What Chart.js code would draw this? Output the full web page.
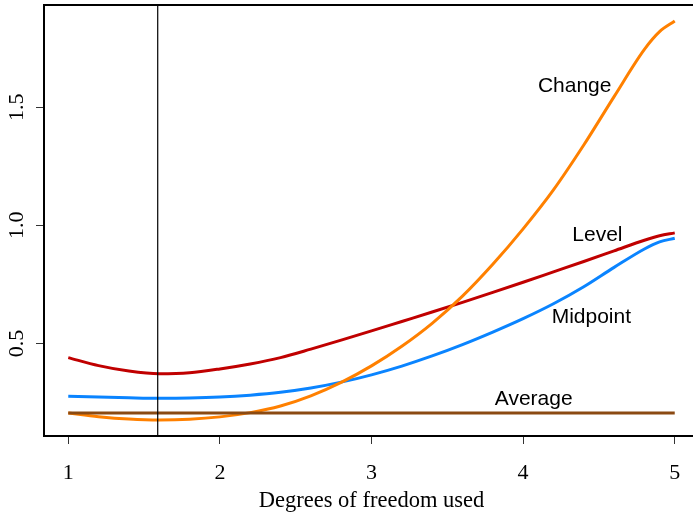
<!DOCTYPE html>
<html>
<head>
<meta charset="utf-8">
<script src="https://cdn.jsdelivr.net/npm/chart.js@4.4.1/dist/chart.umd.min.js"></script>
<style>
  html, body { margin: 0; padding: 0; background: #fff; overflow: hidden; }
  #wrap { width: 705px; height: 515px; }
</style>
</head>
<body>
<div id="wrap"><canvas id="chart" width="705" height="515"></canvas></div>
<script>
// Degrees of freedom (x) at which each smoother summary was evaluated
const dfUsed = [1.0, 1.2, 1.4, 1.6, 1.8, 2.0, 2.2, 2.4, 2.6, 2.8, 3.0, 3.2, 3.4, 3.6, 3.8, 4.0, 4.2, 4.4, 4.6, 4.8, 4.9, 5.0];

const changeValues   = [0.205, 0.190, 0.180, 0.176, 0.179, 0.189, 0.207, 0.235, 0.278, 0.335, 0.405, 0.488, 0.585, 0.700, 0.835, 0.985, 1.150, 1.340, 1.545, 1.745, 1.820, 1.865];
const levelValues    = [0.440, 0.406, 0.383, 0.372, 0.376, 0.392, 0.413, 0.440, 0.476, 0.514, 0.553, 0.593, 0.633, 0.674, 0.716, 0.759, 0.803, 0.847, 0.892, 0.937, 0.956, 0.968];
const midpointValues = [0.276, 0.273, 0.270, 0.268, 0.269, 0.273, 0.281, 0.293, 0.311, 0.336, 0.367, 0.404, 0.447, 0.495, 0.548, 0.605, 0.668, 0.740, 0.822, 0.900, 0.930, 0.945];
const averageX       = [1.0, 5.0];
const averageValues  = [0.205, 0.205];

// Chosen degrees of freedom, marked with a vertical rule
const chosenDf = 1.59;

// Axis ticks and ranges
const xTicks = [1, 2, 3, 4, 5];
const yTicks = [0.5, 1.0, 1.5];
const xRange = [0.84, 5.16];
const yRange = [0.108, 1.933];

// Curve names, written next to each curve (anchor in data units)
const curveNames = ['Change', 'Level', 'Midpoint', 'Average'];
const nameAnchorX = [4.34, 4.49, 4.45, 4.07];
const nameAnchorY = [1.59, 0.958, 0.612, 0.262];

const SERIF = '"Liberation Serif", "DejaVu Serif", serif';
const SANS = '"Liberation Sans", Arial, sans-serif';

const toPoints = (xs, ys) => xs.map((x, i) => ({ x: x, y: ys[i] }));

const lineStyle = (color, order) => ({
  borderColor: color,
  borderWidth: 3,
  pointRadius: 0,
  fill: false,
  cubicInterpolationMode: 'monotone',
  order: order
});

// Frame around the plotting region, plus rotated y tick labels and curve names
const decorations = {
  id: 'decorations',
  afterDatasetsDraw(chart) {
    const { ctx, chartArea: a, scales } = chart;
    ctx.save();
    ctx.strokeStyle = '#000';
    ctx.lineWidth = 2;
    ctx.strokeRect(a.left, a.top, a.right - a.left, a.bottom - a.top);

    // y tick labels, reading bottom to top
    ctx.fillStyle = '#000';
    ctx.font = '22px ' + SERIF;
    ctx.textAlign = 'center';
    ctx.textBaseline = 'middle';
    yTicks.forEach(v => {
      const py = scales.y.getPixelForValue(v);
      ctx.save();
      ctx.translate(17, py);
      ctx.rotate(-Math.PI / 2);
      ctx.fillText(v.toFixed(1), 0, 0);
      ctx.restore();
    });

    // curve names
    ctx.font = '21px ' + SANS;
    curveNames.forEach((name, i) => {
      ctx.fillText(name, scales.x.getPixelForValue(nameAnchorX[i]), scales.y.getPixelForValue(nameAnchorY[i]));
    });
    ctx.restore();
  }
};

new Chart(document.getElementById('chart'), {
  type: 'line',
  data: {
    datasets: [
      Object.assign({ label: 'Chosen df', data: toPoints([chosenDf, chosenDf], yRange) }, lineStyle('#000', -1), { borderWidth: 1.2, cubicInterpolationMode: 'default' }),
      Object.assign({ label: 'Average',  data: toPoints(averageX, averageValues) }, lineStyle('#8B4A12', 0)),
      Object.assign({ label: 'Change',   data: toPoints(dfUsed, changeValues) },   lineStyle('#FF8000', 1)),
      Object.assign({ label: 'Level',    data: toPoints(dfUsed, levelValues) },    lineStyle('#C00000', 2)),
      Object.assign({ label: 'Midpoint', data: toPoints(dfUsed, midpointValues) }, lineStyle('#0A84FF', 3))
    ]
  },
  options: {
    responsive: false,
    animation: false,
    devicePixelRatio: 1,
    layout: { padding: { top: 5, right: 6, left: 0, bottom: 0 } },
    plugins: { legend: { display: false }, tooltip: { enabled: false } },
    scales: {
      x: {
        type: 'linear',
        min: xRange[0],
        max: xRange[1],
        afterBuildTicks: s => { s.ticks = xTicks.map(v => ({ value: v })); },
        afterFit: s => { s.height = 79; },
        border: { display: false },
        grid: { drawOnChartArea: false, drawTicks: true, tickLength: 8, color: '#333', lineWidth: 1 },
        ticks: { color: '#000', font: { family: SERIF, size: 22 }, padding: 16, maxRotation: 0 },
        title: { display: true, text: 'Degrees of freedom used', color: '#000', font: { family: SERIF, size: 22.5 }, padding: { top: 0, bottom: 0 } }
      },
      y: {
        type: 'linear',
        min: yRange[0],
        max: yRange[1],
        afterBuildTicks: s => { s.ticks = yTicks.map(v => ({ value: v })); },
        afterFit: s => { s.width = 44; },
        border: { display: false },
        grid: { drawOnChartArea: false, drawTicks: true, tickLength: 8, color: '#333', lineWidth: 1 },
        ticks: { display: false }
      }
    }
  },
  plugins: [decorations]
});
</script>
</body>
</html>
